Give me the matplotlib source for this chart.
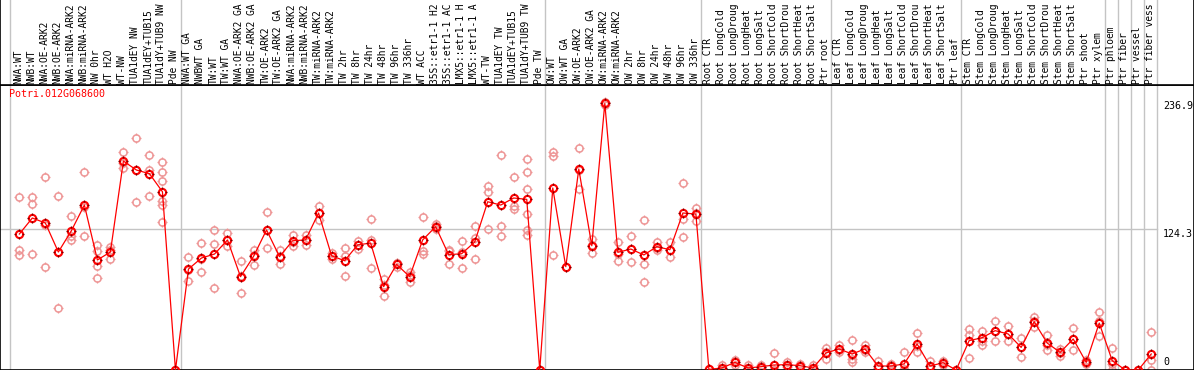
#!/usr/bin/env python3
"""Expression profile of Potri.012G068600 across poplar samples."""

import matplotlib
matplotlib.use("Agg")
import matplotlib.pyplot as plt
from matplotlib.path import Path
from matplotlib.transforms import blended_transform_factory

# ---------------------------------------------------------------------------
# Data
# ---------------------------------------------------------------------------

GENE = "Potri.012G068600"

# sample names as shown in the header (cut to 14 characters like the source)
samples = [
    "NWA:WT", "NWB:WT", "NWA:OE-ARK2", "NWB:OE-ARK2", "NWA:miRNA-ARK2",
    "NWB:miRNA-ARK2", "NW 0hr", "WT H2O", "WT-NW", "TUA1dEY NW",
    "TUA1dEY+TUB15", "TUA1dY+TUB9 NW", "Pde NW",
    "NWA:WT GA", "NWBWT GA", "TW:WT", "TW:WT GA", "NWA:OE-ARK2 GA",
    "NWB:OE-ARK2 GA", "TW:OE-ARK2", "TW:OE-ARK2 GA", "NWA:miRNA-ARK2",
    "NWB:miRNA-ARK2", "TW:miRNA-ARK2", "TW:miRNA-ARK2", "TW 2hr", "TW 8hr",
    "TW 24hr", "TW 48hr", "TW 96hr", "TW 336hr", "WT ACC",
    "35S::etr1-1 H2", "35S::etr1-1 AC", "LMX5::etr1-1 H",
    "LMX5::etr1-1 A", "WT-TW", "TUA1dEY TW", "TUA1dEY+TUB15",
    "TUA1dY+TUB9 TW", "Pde TW",
    "OW:WT", "OW:WT GA", "OW:OE-ARK2", "OW:OE-ARK2 GA", "OW:miRNA-ARK2",
    "OW:miRNA-ARK2", "OW 2hr", "OW 8hr", "OW 24hr", "OW 48hr", "OW 96hr",
    "OW 336hr",
    "Root CTR", "Root LongCold", "Root LongDroug", "Root LongHeat",
    "Root LongSalt", "Root ShortCold", "Root ShortDrou", "Root ShortHeat",
    "Root ShortSalt", "Ptr root",
    "Leaf CTR", "Leaf LongCold", "Leaf LongDroug", "Leaf LongHeat",
    "Leaf LongSalt", "Leaf ShortCold", "Leaf ShortDrou", "Leaf ShortHeat",
    "Leaf ShortSalt", "Ptr leaf",
    "Stem CTR", "Stem LongCold", "Stem LongDroug", "Stem LongHeat",
    "Stem LongSalt", "Stem ShortCold", "Stem ShortDrou", "Stem ShortHeat",
    "Stem ShortSalt", "Ptr shoot", "Ptr xylem",
    "Ptr phloem", "Ptr fiber", "Ptr vessel", "Ptr fiber vess",
]

# mean expression per sample
means = [
    119.6, 133.7, 129.3, 103.8, 122.5, 145.1, 96.8, 103.8, 183.8, 175.9,
    172.7, 156.8, 0.0,
    88.8, 98.5, 102.0, 114.4, 82.1, 99.9, 123.2, 99.7, 113.7, 114.4, 138.1,
    100.5, 96.1, 110.0, 111.7, 73.3, 92.9, 82.1, 114.4, 126.1, 101.4, 102.3,
    112.6, 148.0, 145.1, 151.3, 150.1, 0.0,
    160.1, 90.9, 176.8, 109.3, 234.5, 103.5, 106.4, 101.2, 108.5, 105.8,
    138.1, 137.2,
    0.5, 1.8, 6.7, 1.8, 2.9, 4.4, 4.7, 3.8, 1.8, 15.0,
    18.5, 14.1, 18.5, 3.5, 3.5, 5.3, 22.9, 3.5, 6.4, 0.0,
    25.8, 28.4, 34.6, 31.7, 19.9, 42.5, 23.7, 15.5, 27.3, 6.7, 41.3,
    8.2, 0.0, 0.0, 14.1,
]

# individual replicates per sample
replicates = [
    [152.2, 105.2, 101.2], [146.0, 152.2, 102.0], [169.8, 127.2, 90.9],
    [153.1, 54.5, 103.8], [135.5, 114.0, 118.0], [174.4, 117.9, 143.0],
    [109.6, 104.9, 91.7, 80.9], [107.9, 105.9, 97.6], [191.8, 177.7, 182.0],
    [204.1, 147.8, 175.8], [189.1, 175.9, 153.1],
    [183.2, 174.2, 166.3, 148.9, 145.1, 130.5], [0.0],
    [99.7, 78.3, 88.4], [111.7, 86.2, 97.6], [123.2, 110.8, 72.1],
    [120.2, 108.7, 114.3], [95.9, 68.0, 82.4], [105.8, 92.4, 101.5],
    [139.3, 107.3, 123.0], [105.6, 93.2, 100.3], [119.0, 109.1, 113.0],
    [119.0, 110.2, 114.0], [143.9, 131.9, 138.5], [97.9, 103.0, 100.6],
    [107.6, 100.5, 82.9], [113.5, 106.7, 110.0], [132.8, 114.6, 90.0],
    [80.1, 65.4, 74.4], [94.4, 90.3, 94.0], [85.9, 77.1, 83.3],
    [134.9, 104.9, 102.0], [128.0, 124.0, 126.3], [105.6, 93.5, 105.1],
    [113.5, 90.0, 103.4], [126.9, 116.4, 97.6], [162.1, 156.2, 124.0],
    [189.4, 126.9, 117.9], [169.8, 144.5, 141.6],
    [185.6, 174.2, 159.2, 137.2, 123.4, 119.0], [0.0],
    [192.0, 188.5, 101.4], [90.9], [195.3, 159.2, 176.0], [115.2, 102.6, 110.0],
    [236.0, 233.0, 234.5], [112.3, 95.9, 102.3], [117.9, 95.0, 106.3],
    [131.9, 93.2, 77.4], [112.3, 105.6, 107.6], [112.9, 99.1, 105.4],
    [164.5, 132.5, 117.3], [142.5, 130.7, 138.4],
    [0.5], [4.7, 0.8, 0.0], [9.0, 6.7, 4.4], [4.2, 1.0, 0.2], [4.0, 2.9, 1.8],
    [15.0, 0.0, 0.2], [6.7, 4.7, 2.7], [5.0, 3.8, 2.6], [4.7, 0.6, 0.0],
    [19.4, 9.7, 15.9],
    [22.0, 15.5, 18.0], [26.4, 9.7, 6.7, 13.6], [22.0, 15.5, 18.0],
    [7.6, 1.5, 1.4], [5.5, 0.6, 4.4], [16.1, 0.6, 0.0], [32.5, 15.5, 20.7],
    [8.3, 1.2, 1.0], [8.3, 4.4, 6.5], [0.0],
    [36.3, 31.1, 10.5], [34.6, 25.2, 22.3], [43.4, 25.8, 34.6],
    [38.4, 25.2, 31.5], [27.8, 11.7, 20.2], [46.3, 38.1, 43.1],
    [31.1, 17.6, 22.4], [18.5, 12.7, 15.3], [36.9, 17.6, 27.4],
    [8.7, 5.3, 6.1], [51.3, 43.4, 30.2],
    [19.4, 0.0, 5.2], [0.0], [0.0], [33.4, 0.0, 8.9],
]

# index of the last sample of each group (separators drawn after these)
group_ends = [12, 40, 52, 62, 72, 83, 84, 85, 86, 87]

y_top = 250.7
y_ticks = [236.9, 124.3, 0]

# ---------------------------------------------------------------------------
# Figure
# ---------------------------------------------------------------------------

W, H = 1194, 370
HEADER = 85
MONO = "DejaVu Sans Mono"
FS = 7.2
FS_HEAD = 6.9
RED = "#ff0000"
PINK = "#ee9595"
GRID = "#c4c4c4"

fig = plt.figure(figsize=(W / 100, H / 100), dpi=100)
ax = fig.add_axes([0, 0, 1, (H - HEADER) / H])
hax = fig.add_axes([0, (H - HEADER) / H, 1, HEADER / H])

n = len(samples)
xs = list(range(n))
x_left = -1.485
x_right = x_left + (W - 1) / 13.0
for a in (ax, hax):
    a.set_xlim(x_left, x_right)
    a.set_xticks([])
    a.set_yticks([])
    for s in a.spines.values():
        s.set_color("black")
        s.set_linewidth(1.2)
hax.set_ylim(0, 1)
hax.spines["top"].set_visible(False)
ax.set_ylim(0, y_top)

# separators
sep_x = [-0.72] + [k + 0.41 for k in group_ends]
for sx in sep_x:
    ax.axvline(sx, color=GRID, lw=1.0, zorder=1)
    hax.axvline(sx, color=GRID, lw=1.0, zorder=1)

ax.plot([x_left, sep_x[-1]], [y_ticks[1], y_ticks[1]], color=GRID, lw=1.0,
        zorder=1)

# tick-mark decoration for markers (short strokes at N, S, E, W)
ticks_path = Path(
    [(0, 0.7), (0, 1.0), (0, -0.7), (0, -1.0),
     (0.7, 0), (1.0, 0), (-0.7, 0), (-1.0, 0)],
    [Path.MOVETO, Path.LINETO] * 4,
)

# replicates
rx, ry = [], []
for i, reps in enumerate(replicates):
    for v in reps:
        rx.append(i)
        ry.append(v)
ax.plot(rx, ry, ls="none", marker="o", ms=5.2, mfc="none", mec=PINK,
        mew=1.1, zorder=2)
ax.plot(rx, ry, ls="none", marker=ticks_path, ms=7.0, mec=PINK, mew=0.9,
        zorder=2)

# means
ax.plot(xs, means, color=RED, lw=0.9, zorder=3)
ax.plot(xs, means, ls="none", marker="o", ms=5.2, mfc="none", mec=RED,
        mew=1.5, zorder=4)
ax.plot(xs, means, ls="none", marker=ticks_path, ms=7.0, mec="#7a0000",
        mew=0.9, zorder=4)

# right-hand value labels
lab_tr = blended_transform_factory(ax.transAxes, ax.transData)
lab_x = 1163 / W
ax.text(lab_x, y_ticks[0], f"{y_ticks[0]:.1f}", transform=lab_tr,
        family=MONO, fontsize=FS, va="top", ha="left")
ax.text(lab_x, y_ticks[1], f"{y_ticks[1]:.1f}", transform=lab_tr,
        family=MONO, fontsize=FS, va="top", ha="left")
ax.text(lab_x, 3.0, f"{y_ticks[2]}", transform=lab_tr,
        family=MONO, fontsize=FS, va="bottom", ha="left")

# gene name
ax.text(9.5 / W, 1 - 4 / (H - HEADER), GENE, transform=ax.transAxes,
        family=MONO, fontsize=FS, color=RED, va="top", ha="left")

# rotated sample labels in the header
htr = blended_transform_factory(hax.transData, hax.transAxes)
for i, name in enumerate(samples):
    hax.text(i - 0.08, 1.5 / HEADER, name, transform=htr, rotation=90,
             family=MONO, fontsize=FS_HEAD, ha="center", va="bottom")

fig.savefig("out.png", dpi=100)
